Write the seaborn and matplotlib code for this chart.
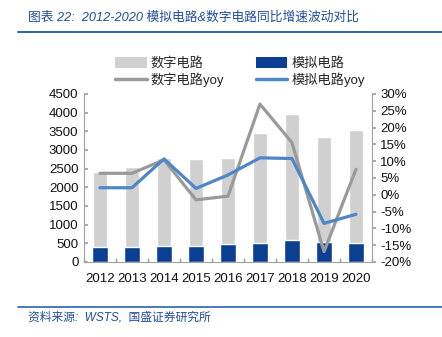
import numpy as np
import pandas as pd
import matplotlib
matplotlib.use("Agg")
import matplotlib.pyplot as plt
import seaborn as sns
from matplotlib.patches import Patch
from matplotlib.lines import Line2D
from matplotlib.ticker import FuncFormatter

years = ["2012", "2013", "2014", "2015", "2016", "2017", "2018", "2019", "2020"]
digital = [2400, 2535, 2795, 2760, 2785, 3465, 3965, 3350, 3535]
analog = [395, 400, 440, 440, 475, 520, 580, 540, 500]
digital_yoy = [6.4, 6.4, 10.4, -1.5, -0.4, 27.0, 15.5, -16.9, 7.6]
analog_yoy = [2.1, 2.1, 10.7, 1.9, 5.9, 11.0, 10.8, -8.5, -5.8]

sns.set_theme(style="white")
plt.rcParams["font.family"] = ["Liberation Sans", "Noto Sans CJK SC", "DejaVu Sans"]

GRAY_BAR = "#D1D0D1"
DARK_BLUE = "#0B3F92"
GRAY_LINE = "#9A9A9A"
BLUE_LINE = "#4E87C8"
TITLE_BLUE = "#1F4E9A"
SPINE = "#A0A0A0"

fig = plt.figure(figsize=(4.42, 3.37), dpi=100)
ax = fig.add_axes([84/442, 1-262/337, (372-84)/442, (262-94)/337])

df = pd.DataFrame({"year": years, "digital": digital, "analog": analog,
                   "digital_yoy": digital_yoy, "analog_yoy": analog_yoy})

sns.barplot(data=df, x="year", y="digital", color=GRAY_BAR, width=0.42,
            saturation=1, ax=ax, zorder=1)
sns.barplot(data=df, x="year", y="analog", color=DARK_BLUE, width=0.5,
            saturation=1, ax=ax, zorder=2)

ax.set_ylim(0, 4500)
ax.set_xlim(-0.5, len(years) - 0.5)
ax.set_yticks(np.arange(0, 4501, 500))
ax.set_xlabel("")
ax.set_ylabel("")
ax.tick_params(axis="y", direction="in", length=3, color=SPINE, labelsize=9.5,
               labelcolor="#111111", pad=4, left=True)
ax.tick_params(axis="x", which="major", length=0, labelsize=9.5, labelcolor="#111111", pad=8)
ax.set_xticks(np.arange(-0.5, len(years), 1), minor=True)
ax.tick_params(axis="x", which="minor", direction="in", length=3, color=SPINE, bottom=True)
for s in ["top", "right"]:
    ax.spines[s].set_visible(False)
for s in ["left", "bottom"]:
    ax.spines[s].set_color(SPINE)
    ax.spines[s].set_linewidth(0.8)

ax2 = ax.twinx()
xpos = np.arange(len(years))
sns.lineplot(x=xpos, y=df["digital_yoy"], color=GRAY_LINE, linewidth=2.3, ax=ax2)
sns.lineplot(x=xpos, y=df["analog_yoy"], color=BLUE_LINE, linewidth=2.3, ax=ax2)
ax2.set_ylim(-20, 30)
ax2.set_yticks(np.arange(-20, 31, 5))
ax2.yaxis.set_major_formatter(FuncFormatter(lambda v, p: f"{int(round(v))}%"))
ax2.set_ylabel("")
ax2.tick_params(axis="y", direction="out", length=3, color=SPINE, labelsize=9.5,
                labelcolor="#111111", pad=3, right=True)
ax2.set_xlim(-0.5, len(years) - 0.5)
for s in ["top", "left", "bottom"]:
    ax2.spines[s].set_visible(False)
ax2.spines["right"].set_color(SPINE)
ax2.spines["right"].set_linewidth(0.8)

handles = [Patch(facecolor=GRAY_BAR, edgecolor="none"),
           Line2D([0], [0], color=GRAY_LINE, lw=2.5),
           Patch(facecolor=DARK_BLUE, edgecolor="none"),
           Line2D([0], [0], color=BLUE_LINE, lw=2.5)]
labels = ["数字电路", "数字电路yoy", "模拟电路", "模拟电路yoy"]
fig.legend(handles, labels, ncol=2, loc="center", bbox_to_anchor=(240/442, 1-72/337),
           frameon=False, fontsize=9.5, handlelength=2.4, handleheight=0.9,
           columnspacing=2.4, labelspacing=0.2, handletextpad=0.3)

fig.text(28/442, 1-18/337, "图表 22:  2012-2020 模拟电路&数字电路同比增速波动对比",
         color=TITLE_BLUE, fontsize=9.2, style="italic", va="center", ha="left")
fig.add_artist(Line2D([18/442, 1], [1-32/337, 1-32/337], color="#2E62B0", lw=1.4))
fig.add_artist(Line2D([18/442, 1], [1-307/337, 1-307/337], color="#2E62B0", lw=1.2))
fig.text(28/442, 1-318/337, "资料来源:  WSTS,  国盛证券研究所",
         color=TITLE_BLUE, fontsize=8.5, style="italic", va="center", ha="left")

fig.savefig("out.png", dpi=100)
